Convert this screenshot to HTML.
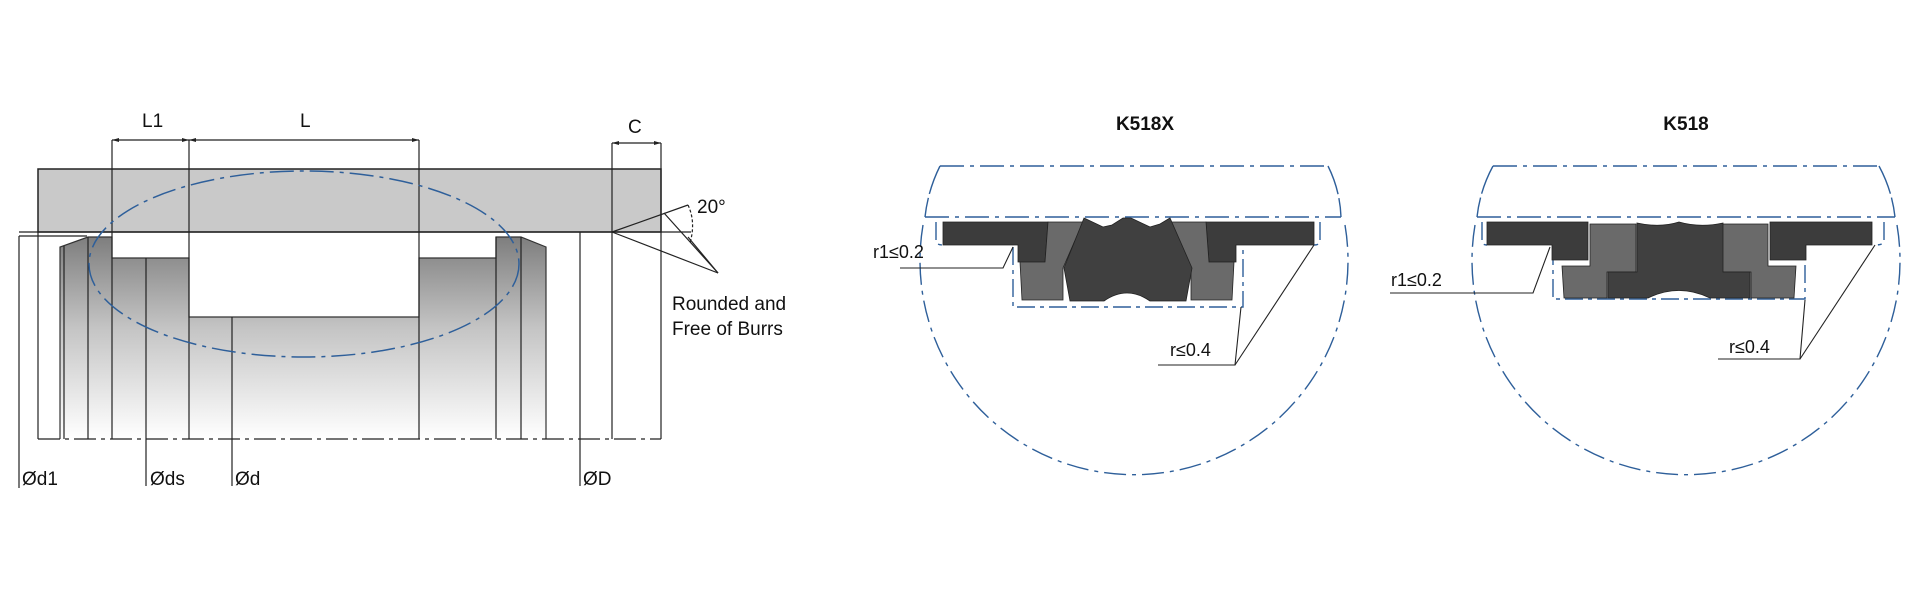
<!DOCTYPE html>
<html><head><meta charset="utf-8"><style>
html,body{margin:0;padding:0;background:#fff;}
svg{display:block;}
text{font-family:"Liberation Sans",Arial,sans-serif;fill:#111;}
</style></head><body>
<svg width="1920" height="600" viewBox="0 0 1920 600" xmlns="http://www.w3.org/2000/svg">
<defs>
<linearGradient id="g" x1="0" y1="0" x2="0" y2="1">
<stop offset="0" stop-color="#7e7e7e"/><stop offset="0.45" stop-color="#c4c4c4"/><stop offset="1" stop-color="#ffffff"/>
</linearGradient>
</defs>
<!-- LEFT DIAGRAM -->
<path d="M60,247 L88,237 L112,237 L112,258 L189,258 L189,317 L419,317 L419,258 L496,258 L496,237 L521,237 L546,247 L546,439 L60,439 Z" fill="url(#g)" stroke="none"/>
<path d="M60,439 L60,247 L88,237 L112,237 L112,258 L189,258 L189,317 L419,317 L419,258 L496,258 L496,237 L521,237 L546,247 L546,439" fill="none" stroke="#333" stroke-width="1.2"/>
<rect x="38" y="169" width="623" height="63" fill="#c9c9c9" stroke="#222" stroke-width="1.5"/>
<g stroke="#222" stroke-width="1.2" fill="none">
<line x1="19" y1="232" x2="691" y2="232"/>
<line x1="19" y1="236" x2="87" y2="236"/>
<line x1="19" y1="236" x2="19" y2="488"/>
<line x1="38" y1="232" x2="38" y2="439"/>
<line x1="64" y1="246" x2="64" y2="439"/>
<line x1="88" y1="237" x2="88" y2="439"/>
<line x1="112" y1="140" x2="112" y2="439"/>
<line x1="146" y1="258" x2="146" y2="486"/>
<line x1="189" y1="140" x2="189" y2="439"/>
<line x1="232" y1="317" x2="232" y2="486"/>
<line x1="419" y1="140" x2="419" y2="439"/>
<line x1="496" y1="237" x2="496" y2="439"/>
<line x1="521" y1="237" x2="521" y2="439"/>
<line x1="580" y1="232" x2="580" y2="486"/>
<line x1="612" y1="143" x2="612" y2="439"/>
<line x1="661" y1="143" x2="661" y2="439"/>
<line x1="112" y1="140" x2="419" y2="140"/>
<line x1="612" y1="143" x2="661" y2="143"/>
<line x1="38" y1="439" x2="661" y2="439" stroke-dasharray="22 5 4 5"/>
<line x1="612" y1="232" x2="688" y2="205"/>
<line x1="612" y1="232" x2="718" y2="273"/>
<line x1="718" y1="273" x2="664" y2="213"/>
<line x1="718" y1="273" x2="688" y2="237"/>
<path d="M688,205 Q696,222 690,243" stroke-dasharray="3 2"/>
</g>
<g fill="#222">
<path d="M112,140 l7,-2 v4z M189,140 l-7,-2 v4z M189,140 l7,-2 v4z M419,140 l-7,-2 v4z M612,143 l7,-2 v4z M661,143 l-7,-2 v4z"/>
</g>
<ellipse cx="304" cy="264" rx="215" ry="93" fill="none" stroke="#2e5f9a" stroke-width="1.5" stroke-dasharray="24 6 4 6"/>
<g font-size="19">
<text x="142" y="127">L1</text>
<text x="300" y="127">L</text>
<text x="628" y="133">C</text>
<text x="697" y="213">20°</text>
<text x="672" y="310">Rounded and</text>
<text x="672" y="335">Free of Burrs</text>
<text x="22" y="485">Ød1</text>
<text x="150" y="485">Øds</text>
<text x="235" y="485">Ød</text>
<text x="583" y="485">ØD</text>
</g>
<!-- K518X -->
<text x="1145" y="130" font-size="19" font-weight="bold" text-anchor="middle">K518X</text>
<g fill="none" stroke="#2e5f9a" stroke-width="1.4">
<line x1="940" y1="166" x2="1328" y2="166" stroke-dasharray="24 6 4 6"/>
<line x1="925" y1="217" x2="1341" y2="217" stroke-dasharray="24 6 4 6"/>
<path d="M940,166 Q928,190 925,217" stroke-dasharray="30 4"/>
<path d="M1328,166 Q1340,190 1341,217" stroke-dasharray="30 4"/>
<path d="M923,225 A214,214 0 1 0 1345,225" stroke-dasharray="22 6 4 6"/>
<path d="M936,222 L936,241 Q936,245 943,245 M1013,247 L1013,307 L1243,307 L1243,247 M1320,222 L1320,241 Q1320,245 1314,245" stroke-dasharray="18 5 4 5"/>
</g>
<g stroke="#222" stroke-width="0.8">
<path d="M943,222 H1048 L1045,262 H1018 V245 H943 Z" fill="#3c3c3c"/>
<path d="M1314,222 H1206 L1209,262 H1236 V245 H1314 Z" fill="#3c3c3c"/>
<path d="M1048,222 H1083 L1063,268 V300 H1022 L1020,262 H1045 Z" fill="#6a6a6a"/>
<path d="M1206,222 H1171 L1191,268 V300 H1232 L1234,262 H1209 Z" fill="#6a6a6a"/>
<path d="M1084,218 L1103,227 L1112,225 L1123,218 L1131,218 L1150,227 L1160,224 L1170,218 L1192,268 L1186,301 L1150,301 Q1127,285 1104,301 L1070,301 L1064,268 Z" fill="#404040"/>
</g>
<g stroke="#222" stroke-width="1.1" fill="none">
<polyline points="900,268 1003,268 1013,247"/>
<polyline points="1158,365 1235,365 1241,307"/>
<line x1="1235" y1="365" x2="1314" y2="245"/>
</g>
<text x="873" y="258" font-size="18">r1≤0.2</text>
<text x="1170" y="356" font-size="18">r≤0.4</text>
<!-- K518 -->
<text x="1686" y="130" font-size="19" font-weight="bold" text-anchor="middle">K518</text>
<g fill="none" stroke="#2e5f9a" stroke-width="1.4">
<line x1="1493" y1="166" x2="1879" y2="166" stroke-dasharray="24 6 4 6"/>
<line x1="1477" y1="217" x2="1895" y2="217" stroke-dasharray="24 6 4 6"/>
<path d="M1493,166 Q1480,190 1477,217" stroke-dasharray="30 4"/>
<path d="M1879,166 Q1892,190 1895,217" stroke-dasharray="30 4"/>
<path d="M1475,225 A214,214 0 1 0 1897,225" stroke-dasharray="22 6 4 6"/>
<path d="M1482,222 L1482,241 Q1482,245 1487,245 M1553,247 L1553,299 L1805,299 L1805,247 M1884,222 L1884,241 Q1884,245 1875,245" stroke-dasharray="18 5 4 5"/>
</g>
<g stroke="#222" stroke-width="0.8">
<path d="M1487,222 H1588 V260 H1552 V245 H1487 Z" fill="#3c3c3c"/>
<path d="M1872,222 H1770 V260 H1806 V245 H1872 Z" fill="#3c3c3c"/>
<path d="M1590,224 H1636 V272 H1607 V298 H1564 L1562,266 H1590 Z" fill="#6a6a6a"/>
<path d="M1768,224 H1722 V272 H1751 V298 H1794 L1796,266 H1768 Z" fill="#6a6a6a"/>
<path d="M1637,223 Q1660,228 1679,222 Q1700,228 1723,223 V272 H1750 V298 H1710 Q1679,283 1648,298 H1608 V272 H1637 Z" fill="#404040"/>
</g>
<g stroke="#222" stroke-width="1.1" fill="none">
<polyline points="1390,293 1533,293 1550,247"/>
<polyline points="1718,359 1800,359 1805,300"/>
<line x1="1800" y1="359" x2="1875" y2="245"/>
</g>
<text x="1391" y="286" font-size="18">r1≤0.2</text>
<text x="1729" y="353" font-size="18">r≤0.4</text>
</svg>
</body></html>
